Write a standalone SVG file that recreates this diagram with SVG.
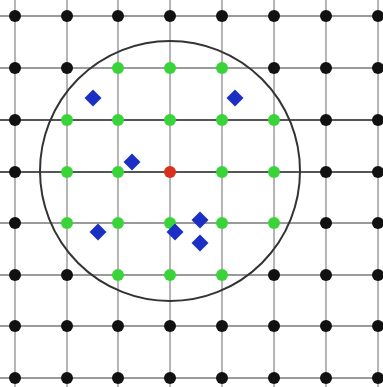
<svg xmlns="http://www.w3.org/2000/svg" width="383" height="387" viewBox="0 0 383 387">
<style>
.v{stroke:#b5b5b5;stroke-width:2}
.h{stroke:#9a9a9a;stroke-width:2}
.hd{stroke:#555;stroke-width:2}
.k{fill:#111}
.g{fill:#3ad43a}
.r{fill:#d8301c}
.b{fill:#1c2fc4}
</style>
<defs>
<rect id="dm" x="-6" y="-6" width="12" height="12" transform="rotate(45)"/>
</defs>
<rect width="383" height="387" fill="#fff"/>
<g id="connectors">
<line class="v" x1="15" y1="0" x2="15" y2="387"/>
<line class="v" x1="67" y1="0" x2="67" y2="387"/>
<line class="v" x1="118" y1="0" x2="118" y2="387"/>
<line class="v" x1="170" y1="0" x2="170" y2="387"/>
<line class="v" x1="222" y1="0" x2="222" y2="387"/>
<line class="v" x1="274" y1="0" x2="274" y2="387"/>
<line class="v" x1="326" y1="0" x2="326" y2="387"/>
<line class="v" x1="378" y1="0" x2="378" y2="387"/>
<line class="h" x1="0" y1="16" x2="383" y2="16"/>
<line class="h" x1="0" y1="68" x2="383" y2="68"/>
<line class="hd" x1="0" y1="120" x2="383" y2="120"/>
<line class="hd" x1="0" y1="172" x2="383" y2="172"/>
<line class="h" x1="0" y1="223" x2="383" y2="223"/>
<line class="h" x1="0" y1="275" x2="383" y2="275"/>
<line class="h" x1="0" y1="326" x2="383" y2="326"/>
<line class="h" x1="0" y1="378" x2="383" y2="378"/>
</g>
<g id="circle"><circle cx="170" cy="171" r="130" fill="none" stroke="#333" stroke-width="2"/></g>
<g id="black-points" class="k">
<circle cx="15" cy="16" r="6"/><circle cx="67" cy="16" r="6"/><circle cx="118" cy="16" r="6"/><circle cx="170" cy="16" r="6"/><circle cx="222" cy="16" r="6"/><circle cx="274" cy="16" r="6"/><circle cx="326" cy="16" r="6"/><circle cx="378" cy="16" r="6"/>
<circle cx="15" cy="68" r="6"/><circle cx="67" cy="68" r="6"/><circle cx="274" cy="68" r="6"/><circle cx="326" cy="68" r="6"/><circle cx="378" cy="68" r="6"/>
<circle cx="15" cy="120" r="6"/><circle cx="326" cy="120" r="6"/><circle cx="378" cy="120" r="6"/>
<circle cx="15" cy="172" r="6"/><circle cx="326" cy="172" r="6"/><circle cx="378" cy="172" r="6"/>
<circle cx="15" cy="223" r="6"/><circle cx="326" cy="223" r="6"/><circle cx="378" cy="223" r="6"/>
<circle cx="15" cy="275" r="6"/><circle cx="67" cy="275" r="6"/><circle cx="274" cy="275" r="6"/><circle cx="326" cy="275" r="6"/><circle cx="378" cy="275" r="6"/>
<circle cx="15" cy="326" r="6"/><circle cx="67" cy="326" r="6"/><circle cx="118" cy="326" r="6"/><circle cx="170" cy="326" r="6"/><circle cx="222" cy="326" r="6"/><circle cx="274" cy="326" r="6"/><circle cx="326" cy="326" r="6"/><circle cx="378" cy="326" r="6"/>
<circle cx="15" cy="378" r="6"/><circle cx="67" cy="378" r="6"/><circle cx="118" cy="378" r="6"/><circle cx="170" cy="378" r="6"/><circle cx="222" cy="378" r="6"/><circle cx="274" cy="378" r="6"/><circle cx="326" cy="378" r="6"/><circle cx="378" cy="378" r="6"/>
</g>
<g id="green-points" class="g">
<circle cx="118" cy="68" r="6"/><circle cx="170" cy="68" r="6"/><circle cx="222" cy="68" r="6"/>
<circle cx="67" cy="120" r="6"/><circle cx="118" cy="120" r="6"/><circle cx="170" cy="120" r="6"/><circle cx="222" cy="120" r="6"/><circle cx="274" cy="120" r="6"/>
<circle cx="67" cy="172" r="6"/><circle cx="118" cy="172" r="6"/><circle cx="222" cy="172" r="6"/><circle cx="274" cy="172" r="6"/>
<circle cx="67" cy="223" r="6"/><circle cx="118" cy="223" r="6"/><circle cx="170" cy="223" r="6"/><circle cx="222" cy="223" r="6"/><circle cx="274" cy="223" r="6"/>
<circle cx="118" cy="275" r="6"/><circle cx="170" cy="275" r="6"/><circle cx="222" cy="275" r="6"/>
</g>
<g id="center-point"><circle class="r" cx="170" cy="172" r="6"/></g>
<g id="samples" class="b">
<use href="#dm" x="93" y="98"/>
<use href="#dm" x="235" y="98"/>
<use href="#dm" x="132" y="162"/>
<use href="#dm" x="98" y="232"/>
<use href="#dm" x="175" y="232"/>
<use href="#dm" x="200" y="220"/>
<use href="#dm" x="200" y="243"/>
</g>
</svg>
